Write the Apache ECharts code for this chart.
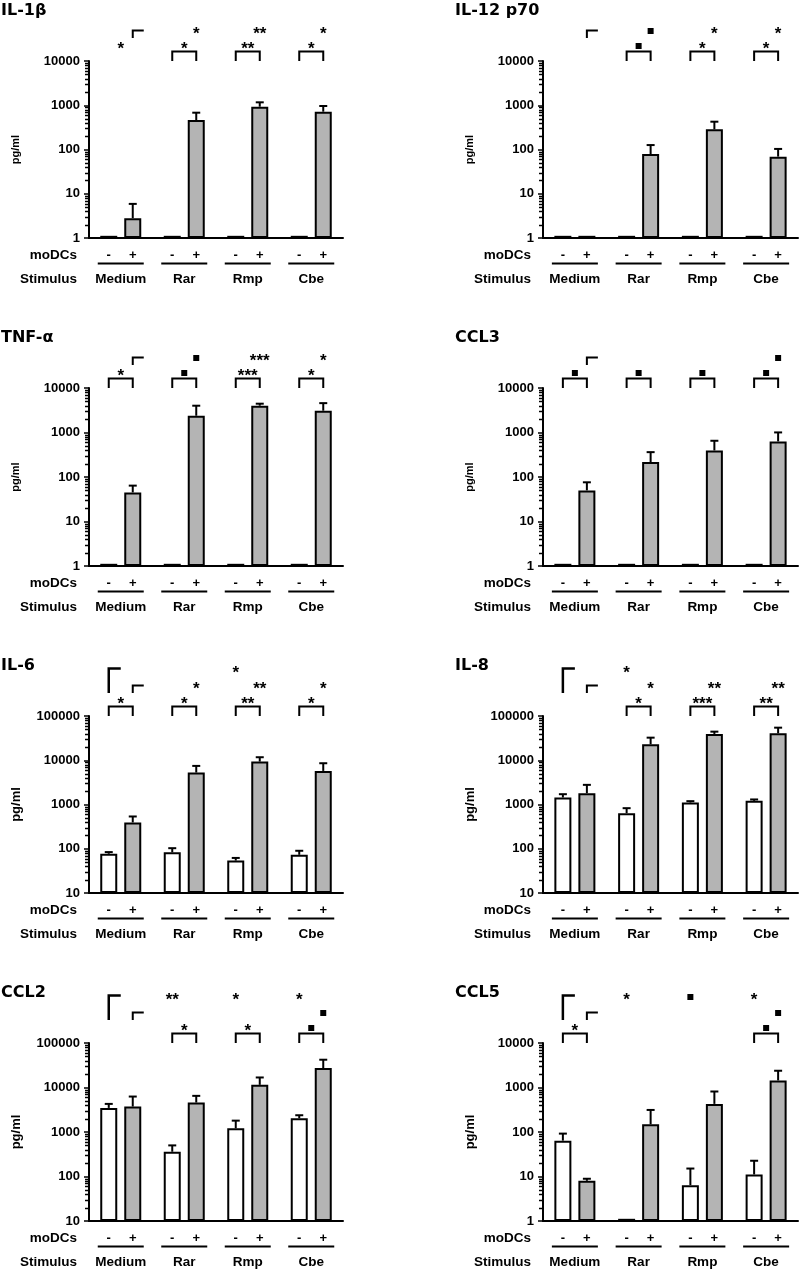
<!DOCTYPE html>
<html><head><meta charset="utf-8">
<script src="https://cdn.jsdelivr.net/npm/echarts@6/dist/echarts.min.js"></script>
<style>html,body{margin:0;padding:0;background:#fff}#c{width:800px;height:1270px}</style>
</head><body><div id="c"></div>
<script>
// ---------- categories ----------
const stimuli = ['Medium', 'Rar', 'Rmp', 'Cbe'];
const rangeLow = [1, 10000];
const rangeHigh = [10, 100000];

// ---------- IL-1β ----------
const il1bMinus = [1.12, 1.12, 1.12, 1.12];
const il1bMinusErr = [null, null, null, null];
const il1bPlus = [2.8, 464, 927, 715];
const il1bPlusErr = [5.9, 679, 1165, 962];
const il1bPair = ['*', '*', '**', '*'];
const il1bBracket = [false, true, true, true];
const il1bVsPlus = ['', '*', '**', '*'];
const il1bVsMinus = null;

// ---------- IL-12 p70 ----------
const il12Minus = [1.12, 1.12, 1.12, 1.12];
const il12MinusErr = [null, null, null, null];
const il12Plus = [1.12, 79, 286, 69];
const il12PlusErr = [null, 126, 425, 103];
const il12Pair = ['', '■', '*', '*'];
const il12Bracket = [false, true, true, true];
const il12VsPlus = ['', '■', '*', '*'];
const il12VsMinus = null;

// ---------- TNF-α ----------
const tnfMinus = [1.12, 1.12, 1.12, 1.12];
const tnfMinusErr = [null, null, null, null];
const tnfPlus = [45, 2380, 4000, 3090];
const tnfPlusErr = [64, 4000, 4440, 4570];
const tnfPair = ['*', '■', '***', '*'];
const tnfBracket = [true, true, true, true];
const tnfVsPlus = ['', '■', '***', '*'];
const tnfVsMinus = null;

// ---------- CCL3 ----------
const ccl3Minus = [1.12, 1.12, 1.12, 1.12];
const ccl3MinusErr = [null, null, null, null];
const ccl3Plus = [50, 216, 395, 630];
const ccl3PlusErr = [76, 362, 652, 1004];
const ccl3Pair = ['■', '■', '■', '■'];
const ccl3Bracket = [true, true, true, true];
const ccl3VsPlus = ['', '', '', '■'];
const ccl3VsMinus = null;

// ---------- IL-6 ----------
const il6Minus = [77, 83, 54, 73];
const il6MinusErr = [84, 103, 62, 90];
const il6Plus = [393, 5270, 9330, 5740];
const il6PlusErr = [536, 7450, 11700, 8560];
const il6Pair = ['*', '*', '**', '*'];
const il6Bracket = [true, true, true, true];
const il6VsPlus = ['', '*', '**', '*'];
const il6VsMinus = ['', '', '*', ''];

// ---------- IL-8 ----------
const il8Minus = [1440, 638, 1110, 1210];
const il8MinusErr = [1710, 826, 1190, 1300];
const il8Plus = [1800, 22960, 39260, 40600];
const il8PlusErr = [2780, 32400, 44300, 54500];
const il8Pair = ['', '*', '***', '**'];
const il8Bracket = [false, true, true, true];
const il8VsPlus = ['', '*', '**', '**'];
const il8VsMinus = ['', '*', '', ''];

// ---------- CCL2 ----------
const ccl2Minus = [3480, 360, 1210, 2030];
const ccl2MinusErr = [4280, 500, 1800, 2380];
const ccl2Plus = [3730, 4590, 11480, 27300];
const ccl2PlusErr = [6260, 6490, 16800, 42100];
const ccl2Pair = ['', '*', '*', '■'];
const ccl2Bracket = [false, true, true, true];
const ccl2VsPlus = ['', '', '', '■'];
const ccl2VsMinus = ['', '**', '*', '*'];

// ---------- CCL5 ----------
const ccl5Minus = [64, 1.12, 6.4, 11.1];
const ccl5MinusErr = [92, null, 15.1, 22.6];
const ccl5Plus = [8.0, 149, 428, 1440];
const ccl5PlusErr = [8.9, 313, 813, 2380];
const ccl5Pair = ['*', '', '', '■'];
const ccl5Bracket = [true, false, false, true];
const ccl5VsPlus = ['', '', '', '■'];
const ccl5VsMinus = ['', '*', '■', '*'];

const panels = [
  {title: 'IL-1β', range: rangeLow, minus: il1bMinus, minusErr: il1bMinusErr, plus: il1bPlus, plusErr: il1bPlusErr, pair: il1bPair, bracket: il1bBracket, vsPlus: il1bVsPlus, vsMinus: il1bVsMinus},
  {title: 'IL-12 p70', range: rangeLow, minus: il12Minus, minusErr: il12MinusErr, plus: il12Plus, plusErr: il12PlusErr, pair: il12Pair, bracket: il12Bracket, vsPlus: il12VsPlus, vsMinus: il12VsMinus},
  {title: 'TNF-α', range: rangeLow, minus: tnfMinus, minusErr: tnfMinusErr, plus: tnfPlus, plusErr: tnfPlusErr, pair: tnfPair, bracket: tnfBracket, vsPlus: tnfVsPlus, vsMinus: tnfVsMinus},
  {title: 'CCL3', range: rangeLow, minus: ccl3Minus, minusErr: ccl3MinusErr, plus: ccl3Plus, plusErr: ccl3PlusErr, pair: ccl3Pair, bracket: ccl3Bracket, vsPlus: ccl3VsPlus, vsMinus: ccl3VsMinus},
  {title: 'IL-6', range: rangeHigh, minus: il6Minus, minusErr: il6MinusErr, plus: il6Plus, plusErr: il6PlusErr, pair: il6Pair, bracket: il6Bracket, vsPlus: il6VsPlus, vsMinus: il6VsMinus},
  {title: 'IL-8', range: rangeHigh, minus: il8Minus, minusErr: il8MinusErr, plus: il8Plus, plusErr: il8PlusErr, pair: il8Pair, bracket: il8Bracket, vsPlus: il8VsPlus, vsMinus: il8VsMinus},
  {title: 'CCL2', range: rangeHigh, minus: ccl2Minus, minusErr: ccl2MinusErr, plus: ccl2Plus, plusErr: ccl2PlusErr, pair: ccl2Pair, bracket: ccl2Bracket, vsPlus: ccl2VsPlus, vsMinus: ccl2VsMinus},
  {title: 'CCL5', range: rangeLow, minus: ccl5Minus, minusErr: ccl5MinusErr, plus: ccl5Plus, plusErr: ccl5PlusErr, pair: ccl5Pair, bracket: ccl5Bracket, vsPlus: ccl5VsPlus, vsMinus: ccl5VsMinus}
];

// ---------- layout / style ----------
const FONT = '"Liberation Sans", Arial, sans-serif';
const TITLE_FONT = '"DejaVu Sans", "Liberation Sans", sans-serif';
const BAR_W = 17, BAR_GAP = 7, HALF = (BAR_W + BAR_GAP) / 2;
const colLeft = [89, 543], colWidth = [254, 255];
const rowTop = [61, 388, 716, 1043], rowHeight = [177, 178, 177, 178];
const titleLeft = [1, 455];
const GRAY = '#b4b4b4';

function txt(text, x, y, font, align) {
  return {type: 'text', style: {text: text, x: x, y: y, font: font, fill: '#000', align: align || 'center', verticalAlign: 'middle'}};
}
function ln(x1, y1, x2, y2, w) {
  return {type: 'line', shape: {x1: x1, y1: y1, x2: x2, y2: y2}, style: {stroke: '#000', lineWidth: w || 2}};
}
function mark(m, x, y) {
  if (!m) return null;
  if (m === '■') return {type: 'rect', shape: {x: x - 3, y: y - 3, width: 6, height: 6}, style: {fill: '#000'}};
  return txt(m, x, y + 3.5, 'bold 17px ' + FONT);
}

function renderErr(params, api) {
  const g = api.value(0), m = api.value(1), t = api.value(2), s = api.value(3);
  const p0 = api.coord([g, m]), p1 = api.coord([g, t]);
  const x = p0[0] + s * HALF;
  return {type: 'group', children: [ln(x, p0[1], x, p1[1]), ln(x - 4, p1[1], x + 4, p1[1])]};
}
function renderMinor(params, api) {
  const y = Math.round(api.coord([0, api.value(1)])[1]) + 0.5;
  const x = params.coordSys.x;
  return ln(x - 4, y, x, y, 1.5);
}
function renderDecor(params, api) {
  const g = api.value(0);
  const xc = api.coord([g, api.value(1)])[0];
  const cs = params.coordSys, yb = cs.y + cs.height;
  const f = 'bold 13px ' + FONT;
  const ch = [txt('-', xc - HALF, yb + 17, f), txt('+', xc + HALF, yb + 17, f), ln(xc - 23, yb + 25.5, xc + 23, yb + 25.5)];
  if (g === 0) {
    ch.push(txt('moDCs', cs.x - 12, yb + 17, 'bold 13.5px ' + FONT, 'right'));
    ch.push(txt('Stimulus', cs.x - 12, yb + 41, 'bold 13.5px ' + FONT, 'right'));
  }
  return {type: 'group', children: ch};
}
function makeAnnot(p) {
  return function (params, api) {
    const g = api.value(0);
    const xc = api.coord([g, api.value(1)])[0];
    const y0 = params.coordSys.y;
    const ch = [];
    const pm = p.pair[g];
    if (pm) {
      if (p.bracket[g]) {
        ch.push({type: 'polyline', shape: {points: [[xc - HALF, y0], [xc - HALF, y0 - 9.5], [xc + HALF, y0 - 9.5], [xc + HALF, y0]]}, style: {stroke: '#000', lineWidth: 2, fill: null}});
      }
      ch.push(mark(pm, xc, y0 - 15));
    }
    if (p.vsPlus) {
      if (g === 0) {
        ch.push({type: 'polyline', shape: {points: [[xc + HALF, y0 - 23], [xc + HALF, y0 - 30.5], [xc + HALF + 11, y0 - 30.5]]}, style: {stroke: '#000', lineWidth: 2, fill: null}});
      } else {
        ch.push(mark(p.vsPlus[g], xc + HALF, y0 - 30));
      }
    }
    if (p.vsMinus) {
      if (g === 0) {
        ch.push({type: 'polyline', shape: {points: [[xc - HALF, y0 - 23], [xc - HALF, y0 - 47.5], [xc - HALF + 12, y0 - 47.5]]}, style: {stroke: '#000', lineWidth: 2.5, fill: null}});
      } else {
        ch.push(mark(p.vsMinus[g], xc - HALF, y0 - 46));
      }
    }
    return {type: 'group', children: ch.filter(Boolean)};
  };
}

const grid = [], xAxis = [], yAxis = [], series = [], title = [];
panels.forEach(function (p, i) {
  const r = Math.floor(i / 2), c = i % 2;
  const big = r >= 2;
  grid.push({left: colLeft[c], top: rowTop[r], width: colWidth[c], height: rowHeight[r]});
  title.push({text: p.title, left: titleLeft[c], top: rowTop[r] - 58, padding: 0,
    textStyle: {fontSize: 16, fontWeight: 'bold', fontFamily: TITLE_FONT, color: '#000'}});
  xAxis.push({type: 'category', gridIndex: i, data: stimuli,
    axisLine: {onZero: false, lineStyle: {color: '#000', width: 2}},
    axisTick: {show: false},
    axisLabel: {interval: 0, margin: 34, color: '#000', fontWeight: 'bold', fontSize: 13.5, fontFamily: FONT}});
  yAxis.push({type: 'log', gridIndex: i, logBase: 10, min: p.range[0], max: p.range[1], startValue: p.range[0],
    name: 'pg/ml', nameLocation: 'middle', nameRotate: 90, nameGap: big ? 66 : 68,
    nameTextStyle: {fontSize: big ? 13 : 11, fontWeight: 'bold', fontFamily: FONT, color: '#000'},
    axisLine: {show: true, lineStyle: {color: '#000', width: 2}},
    axisTick: {show: true, length: 5, lineStyle: {color: '#000', width: 1.5}},
    axisLabel: {margin: 9, color: '#000', fontWeight: 'bold', fontSize: 13, fontFamily: FONT,
      formatter: function (v) { return String(Math.round(v)); }},
    splitLine: {show: false}});
  series.push({type: 'bar', xAxisIndex: i, yAxisIndex: i, data: p.minus, barWidth: BAR_W,
    barGap: (BAR_GAP / BAR_W * 100).toFixed(1) + '%', clip: true, silent: true,
    itemStyle: {color: '#fff', borderColor: '#000', borderWidth: 2}});
  series.push({type: 'bar', xAxisIndex: i, yAxisIndex: i, data: p.plus, barWidth: BAR_W,
    barGap: (BAR_GAP / BAR_W * 100).toFixed(1) + '%', clip: true, silent: true,
    itemStyle: {color: GRAY, borderColor: '#000', borderWidth: 2}});
  const errData = [];
  stimuli.forEach(function (s, g) {
    if (p.minusErr[g] != null) errData.push([g, p.minus[g], p.minusErr[g], -1]);
    if (p.plusErr[g] != null) errData.push([g, p.plus[g], p.plusErr[g], 1]);
  });
  series.push({type: 'custom', xAxisIndex: i, yAxisIndex: i, data: errData, renderItem: renderErr,
    encode: {x: 0, y: [1, 2]}, z: 1, silent: true});
  const minor = [];
  for (let e = Math.round(Math.log10(p.range[0])); e < Math.round(Math.log10(p.range[1])); e++) {
    for (let m = 2; m <= 9; m++) minor.push([0, m * Math.pow(10, e)]);
  }
  series.push({type: 'custom', xAxisIndex: i, yAxisIndex: i, data: minor, renderItem: renderMinor,
    encode: {x: 0, y: 1}, silent: true});
  const catData = stimuli.map(function (s, g) { return [g, p.range[1]]; });
  series.push({type: 'custom', xAxisIndex: i, yAxisIndex: i, data: catData, renderItem: renderDecor,
    encode: {x: 0, y: 1}, silent: true});
  series.push({type: 'custom', xAxisIndex: i, yAxisIndex: i, data: catData, renderItem: makeAnnot(p),
    encode: {x: 0, y: 1}, silent: true});
});

const chart = echarts.init(document.getElementById('c'));
chart.setOption({animation: false, backgroundColor: '#fff', title: title, grid: grid, xAxis: xAxis, yAxis: yAxis, series: series});
</script></body></html>
